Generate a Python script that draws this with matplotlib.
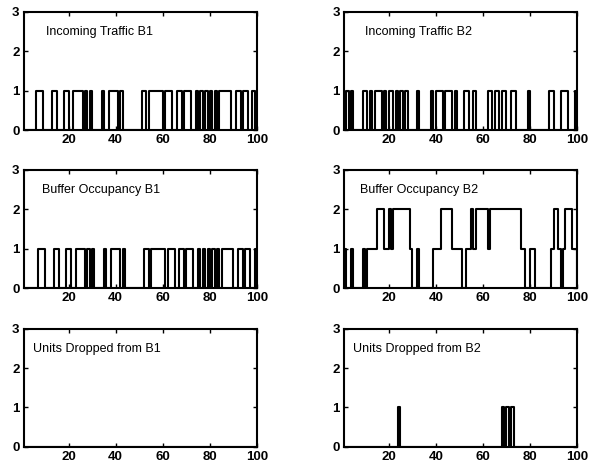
import numpy as np
import matplotlib
matplotlib.use("Agg")
import matplotlib.pyplot as plt

plt.rcParams["font.family"] = ["Liberation Sans", "DejaVu Sans"]

# time steps 1..100
t = np.arange(1, 101)

incoming_b1 = [
    0, 0, 0, 0, 0, 1, 1, 1, 0, 0, 0, 0, 1, 1, 0, 0, 0, 1, 1, 0,
    0, 1, 1, 1, 1, 0, 1, 0, 1, 0, 0, 0, 0, 1, 0, 0, 1, 1, 1, 1,
    0, 1, 0, 0, 0, 0, 0, 0, 0, 0, 1, 1, 0, 1, 1, 1, 1, 1, 1, 0,
    1, 1, 1, 0, 0, 1, 1, 0, 1, 1, 1, 0, 0, 1, 0, 1, 0, 1, 0, 1,
    0, 1, 0, 1, 1, 1, 1, 1, 0, 0, 1, 1, 0, 1, 1, 0, 0, 1, 0, 1,
]

incoming_b2 = [
    0, 1, 0, 1, 0, 0, 0, 0, 1, 1, 0, 1, 0, 1, 1, 1, 0, 1, 0, 1,
    1, 0, 1, 0, 1, 0, 1, 0, 0, 0, 0, 1, 0, 0, 0, 0, 0, 1, 0, 1,
    1, 1, 0, 1, 1, 1, 0, 1, 0, 0, 0, 1, 1, 0, 0, 1, 0, 0, 0, 0,
    0, 1, 1, 0, 1, 1, 0, 1, 1, 0, 0, 1, 1, 0, 0, 0, 0, 0, 1, 0,
    0, 0, 0, 0, 0, 0, 0, 1, 1, 0, 0, 0, 1, 1, 1, 0, 0, 0, 1, 1,
]

buffer_b1 = [
    0, 0, 0, 0, 0, 0, 1, 1, 1, 0, 0, 0, 0, 1, 1, 0, 0, 0, 1, 1,
    0, 0, 1, 1, 1, 1, 0, 1, 0, 1, 0, 0, 0, 0, 1, 0, 0, 1, 1, 1,
    1, 0, 1, 0, 0, 0, 0, 0, 0, 0, 0, 1, 1, 0, 1, 1, 1, 1, 1, 1,
    0, 1, 1, 1, 0, 0, 1, 1, 0, 1, 1, 1, 0, 0, 1, 0, 1, 0, 1, 0,
    1, 0, 1, 0, 1, 1, 1, 1, 1, 0, 0, 1, 1, 0, 1, 1, 0, 0, 1, 0,
]

buffer_b2 = [
    1, 0, 0, 1, 0, 0, 0, 0, 1, 0, 1, 1, 1, 1, 2, 2, 2, 1, 1, 2,
    1, 2, 2, 2, 2, 2, 2, 2, 1, 0, 0, 1, 0, 0, 0, 0, 0, 0, 1, 1,
    1, 2, 2, 2, 2, 2, 1, 1, 1, 1, 0, 0, 1, 1, 2, 1, 2, 2, 2, 2,
    2, 1, 2, 2, 2, 2, 2, 2, 2, 2, 2, 2, 2, 2, 2, 1, 1, 0, 0, 1,
    1, 0, 0, 0, 0, 0, 0, 0, 1, 2, 2, 1, 0, 1, 2, 2, 2, 1, 1, 0,
]

dropped_b1 = [0] * 100

dropped_b2 = [
    0, 0, 0, 0, 0, 0, 0, 0, 0, 0, 0, 0, 0, 0, 0, 0, 0, 0, 0, 0,
    0, 0, 0, 1, 0, 0, 0, 0, 0, 0, 0, 0, 0, 0, 0, 0, 0, 0, 0, 0,
    0, 0, 0, 0, 0, 0, 0, 0, 0, 0, 0, 0, 0, 0, 0, 0, 0, 0, 0, 0,
    0, 0, 0, 0, 0, 0, 0, 1, 0, 1, 0, 1, 0, 0, 0, 0, 0, 0, 0, 0,
    0, 0, 0, 0, 0, 0, 0, 0, 0, 0, 0, 0, 0, 0, 0, 0, 0, 0, 0, 0,
]

panels = [
    ("Incoming Traffic B1", incoming_b1),
    ("Incoming Traffic B2", incoming_b2),
    ("Buffer Occupancy B1", buffer_b1),
    ("Buffer Occupancy B2", buffer_b2),
    ("Units Dropped from B1", dropped_b1),
    ("Units Dropped from B2", dropped_b2),
]

fig = plt.figure(figsize=(5.95, 4.7), dpi=100)

col_left = [0.040, 0.578]
col_width = 0.392
row_bottom = [0.723, 0.387, 0.049]
row_height = 0.252
label_x = [[0.097, 0.09], [0.076, 0.07], [0.04, 0.04]]

for i, (title, values) in enumerate(panels):
    r, c = divmod(i, 2)
    ax = fig.add_axes([col_left[c], row_bottom[r], col_width, row_height])
    ax.step(t, values, where="post", color="black", linewidth=1.5)
    ax.set_xlim(1, 100)
    ax.set_ylim(0, 3)
    ax.set_xticks([20, 40, 60, 80, 100])
    ax.set_yticks([0, 1, 2, 3])
    ax.tick_params(direction="in", length=3, width=1, top=True, right=True,
                   labelsize=9.5, pad=3)
    for lab in ax.get_xticklabels() + ax.get_yticklabels():
        lab.set_fontweight("bold")
    for sp in ax.spines.values():
        sp.set_linewidth(1.5)
    ax.text(label_x[r][c], 0.83, title, transform=ax.transAxes,
            fontsize=9, va="center", ha="left")

plt.savefig("out.png", dpi=100)
plt.close()
